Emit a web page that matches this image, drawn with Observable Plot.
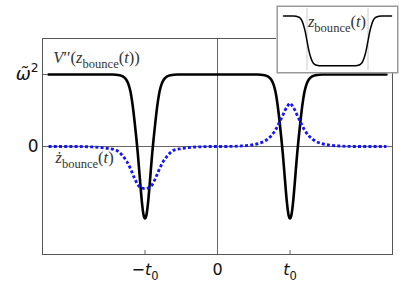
<!DOCTYPE html>
<html><head><meta charset="utf-8">
<script src="https://cdn.jsdelivr.net/npm/d3@7"></script>
<script src="https://cdn.jsdelivr.net/npm/@observablehq/plot@0.6"></script>
<style>
html,body{margin:0;padding:0;background:#fff;}
#wrap{position:relative;width:409px;height:307px;overflow:hidden;}
#inset{position:absolute;left:276px;top:5px;}
</style></head><body><div id="wrap"><div id="main"></div><div id="inset"></div></div>
<script>
// ---- data (t in units of t0, y in units of omega~^2) ----
const vT = [-2.33, -1.45, -1.35, -1.30, -1.26, -1.23, -1.20, -1.18, -1.16, -1.14, -1.12, -1.10, -1.08, -1.06, -1.04, -1.02, -1.00,
            -0.98, -0.96, -0.94, -0.92, -0.90, -0.88, -0.86, -0.84, -0.82, -0.80, -0.77, -0.74, -0.70, -0.65, -0.55, 0,
            0.55, 0.65, 0.70, 0.74, 0.77, 0.80, 0.82, 0.84, 0.86, 0.88, 0.90, 0.92, 0.94, 0.96, 0.98, 1.00,
            1.02, 1.04, 1.06, 1.08, 1.10, 1.12, 1.14, 1.16, 1.18, 1.20, 1.23, 1.26, 1.30, 1.35, 1.45, 2.33];
const vV = [1.00, 1.00, 0.99, 0.97, 0.93, 0.87, 0.76, 0.64, 0.49, 0.31, 0.12, -0.09, -0.33, -0.58, -0.80, -0.95, -1.00,
            -0.95, -0.80, -0.58, -0.33, -0.09, 0.12, 0.31, 0.49, 0.64, 0.76, 0.87, 0.93, 0.97, 0.99, 1.00, 1.00,
            1.00, 0.99, 0.97, 0.93, 0.87, 0.76, 0.64, 0.49, 0.31, 0.12, -0.09, -0.33, -0.58, -0.80, -0.95, -1.00,
            -0.95, -0.80, -0.58, -0.33, -0.09, 0.12, 0.31, 0.49, 0.64, 0.76, 0.87, 0.93, 0.97, 0.99, 1.00, 1.00];

const zdT = [-2.33, -1.9, -1.75, -1.6, -1.5, -1.4, -1.35, -1.3, -1.25, -1.2, -1.15, -1.1, -1.05, -1.0,
             -0.95, -0.9, -0.85, -0.8, -0.75, -0.7, -0.65, -0.6, -0.5, -0.4, -0.25, -0.1,
             0, 0.1, 0.3, 0.45, 0.56, 0.65, 0.7, 0.75, 0.8, 0.86, 0.9, 0.93, 0.965, 1.0,
             1.035, 1.07, 1.1, 1.14, 1.2, 1.25, 1.3, 1.35, 1.44, 1.55, 1.7, 1.9, 2.33];
const zdV = [0, 0, -0.005, -0.015, -0.03, -0.05, -0.085, -0.14, -0.21, -0.31, -0.43, -0.53, -0.575, -0.585,
             -0.575, -0.53, -0.43, -0.31, -0.21, -0.14, -0.085, -0.05, -0.03, -0.015, -0.005, 0,
             0, 0, 0.006, 0.018, 0.04, 0.075, 0.11, 0.16, 0.23, 0.35, 0.43, 0.50, 0.56, 0.60,
             0.56, 0.50, 0.43, 0.35, 0.23, 0.16, 0.11, 0.075, 0.04, 0.018, 0.006, 0, 0];

// inset: z_bounce(t)
const zT = [-1.77, -1.45, -1.35, -1.25, -1.18, -1.12, -1.06, -1.0, -0.94, -0.88, -0.82, -0.75, -0.65, -0.55, 0,
            0.55, 0.65, 0.75, 0.82, 0.88, 0.94, 1.0, 1.06, 1.12, 1.18, 1.25, 1.35, 1.45, 1.77];
const zV = [1, 1.0, 0.985, 0.94, 0.84, 0.66, 0.38, 0, -0.38, -0.66, -0.84, -0.94, -0.985, -1.0, -1,
            -1.0, -0.985, -0.94, -0.84, -0.66, -0.38, 0, 0.38, 0.66, 0.84, 0.94, 0.985, 1.0, 1];
const insetMarks = [-1, 1];

const xTicks = [-1, 0, 1];
const xTickLabels = ["−t0", "0", "t0"];
const xTickMarks = [-1, 1];
const yTicks = [0, 1];
const yTickLabels = ["0", "ω̃2"];
const yTickMarks = [1];

const annoText = ["V''(z_bounce(t))", "zdot_bounce(t)"];
const annoT = [-2.265, -2.235];
const annoY = [1.16, -0.23];
const insetLabel = ["z_bounce(t)"];

// ---- rich text helpers ----
const NS = "http://www.w3.org/2000/svg";
function rich(el, parts, base, subScale) {
  el.textContent = "";
  let shift = 0;
  for (const p of parts) {
    const ts = document.createElementNS(NS, "tspan");
    ts.textContent = p.s;
    let target = 0, size = base;
    if (p.sub) { target = base * 0.30; size = base * subScale; }
    if (p.sup) { target = -base * 0.42; size = base * 0.68; }
    if (p.i) ts.setAttribute("font-style", "italic");
    ts.setAttribute("font-size", size);
    const d = target - shift;
    if (d) ts.setAttribute("dy", d.toFixed(2));
    shift = target;
    el.appendChild(ts);
  }
}
const richMap = {
  "−t0": [[{s: "−"}, {s: "t", i: 1}, {s: "0", sub: 1}], 16, 0.72],
  "t0": [[{s: "t", i: 1}, {s: "0", sub: 1}], 16, 0.72],
  "ω̃2": [[{s: "ω̃", i: 1}, {s: "2", sup: 1}], 18, 0.72],
  "V''(z_bounce(t))": [[{s: "V", i: 1}, {s: "′′"}, {s: "("}, {s: "z", i: 1}, {s: "bounce", sub: 1}, {s: "("}, {s: "t", i: 1}, {s: "))"}], 16.5, 0.76],
  "zdot_bounce(t)": [[{s: "ż", i: 1}, {s: "bounce", sub: 1}, {s: "("}, {s: "t", i: 1}, {s: ")"}], 16.5, 0.76],
  "z_bounce(t)": [[{s: "z", i: 1}, {s: "bounce", sub: 1}, {s: "("}, {s: "t", i: 1}, {s: ")"}], 16.5, 0.76]
};
function applyRich(svg) {
  svg.querySelectorAll("text").forEach(el => {
    const k = el.textContent;
    if (richMap[k]) rich(el, richMap[k][0], richMap[k][1], richMap[k][2]);
  });
}

// ---- main chart ----
const W = 409, H = 307, mL = 42, mR = 17, mT = 38, mB = 53;
const pw = W - mL - mR, ph = H - mT - mB;
const vData = vT.map((t, i) => ({t, v: vV[i]}));
const zdData = zdT.map((t, i) => ({t, v: zdV[i]}));
const annos = annoText.map((s, i) => ({s, t: annoT[i], y: annoY[i]}));

const main = Plot.plot({
  width: W, height: H,
  marginLeft: mL, marginRight: mR, marginTop: mT, marginBottom: mB,
  style: {fontFamily: "DejaVu Sans", background: "#fff", overflow: "visible"},
  x: {domain: [-2.414, 2.414], axis: null},
  y: {domain: [-1.5, 1.5], axis: null},
  marks: [
    Plot.ruleY([0], {stroke: "#666", strokeWidth: 1}),
    Plot.ruleX([0], {stroke: "#666", strokeWidth: 1}),
    Plot.ruleX(xTickMarks, {x: d => d, stroke: "#666", insetTop: ph - 4}),
    Plot.ruleY(yTickMarks, {y: d => d, stroke: "#666", insetRight: pw - 5}),
    Plot.frame({stroke: "#555", strokeWidth: 1}),
    Plot.text(xTicks, {x: d => d, frameAnchor: "bottom", text: (d, i) => xTickLabels[i], lineAnchor: "top", dy: 9, fontSize: 16, fill: "#111"}),
    Plot.text(yTicks, {y: d => d, frameAnchor: "left", text: (d, i) => yTickLabels[i], textAnchor: "end", dx: -4, fontSize: 17, fill: "#111"}),
    Plot.line(vData, {x: "t", y: "v", stroke: "#000", strokeWidth: 2.6, curve: "monotone-x"}),
    Plot.line(zdData, {x: "t", y: "v", stroke: "#1414ff", strokeWidth: 2.8, strokeDasharray: "3,2.2", strokeLinecap: "butt", strokeLinejoin: "miter", curve: "monotone-x"}),
    Plot.text(annos, {x: "t", y: "y", text: "s", textAnchor: "start", lineAnchor: "bottom", fontFamily: "Liberation Serif", fontSize: 16.5, fill: "#333"})
  ]
});
applyRich(main);
document.getElementById("main").appendChild(main);

// ---- inset ----
const zData = zT.map((t, i) => ({t, z: zV[i]}));
const inset = Plot.plot({
  width: 122, height: 68, margin: 0,
  style: {background: "#fff", overflow: "visible"},
  x: {domain: [-2, 2], axis: null},
  y: {domain: [-1.31, 1.42], axis: null},
  marks: [
    Plot.ruleX(insetMarks, {x: d => d, stroke: "#ccc", strokeWidth: 1, insetTop: 3, insetBottom: 3}),
    Plot.line(zData, {x: "t", y: "z", stroke: "#000", strokeWidth: 1.5, curve: "monotone-x"}),
    Plot.text(insetLabel, {x: -0.97, y: 0.56, text: d => d, textAnchor: "start", lineAnchor: "bottom", fontFamily: "Liberation Serif", fontSize: 16.5, fill: "#333"}),
    Plot.frame({stroke: "#999", strokeWidth: 1.5, inset: 0.75})
  ]
});
applyRich(inset);
document.getElementById("inset").appendChild(inset);
</script>
</body></html>
